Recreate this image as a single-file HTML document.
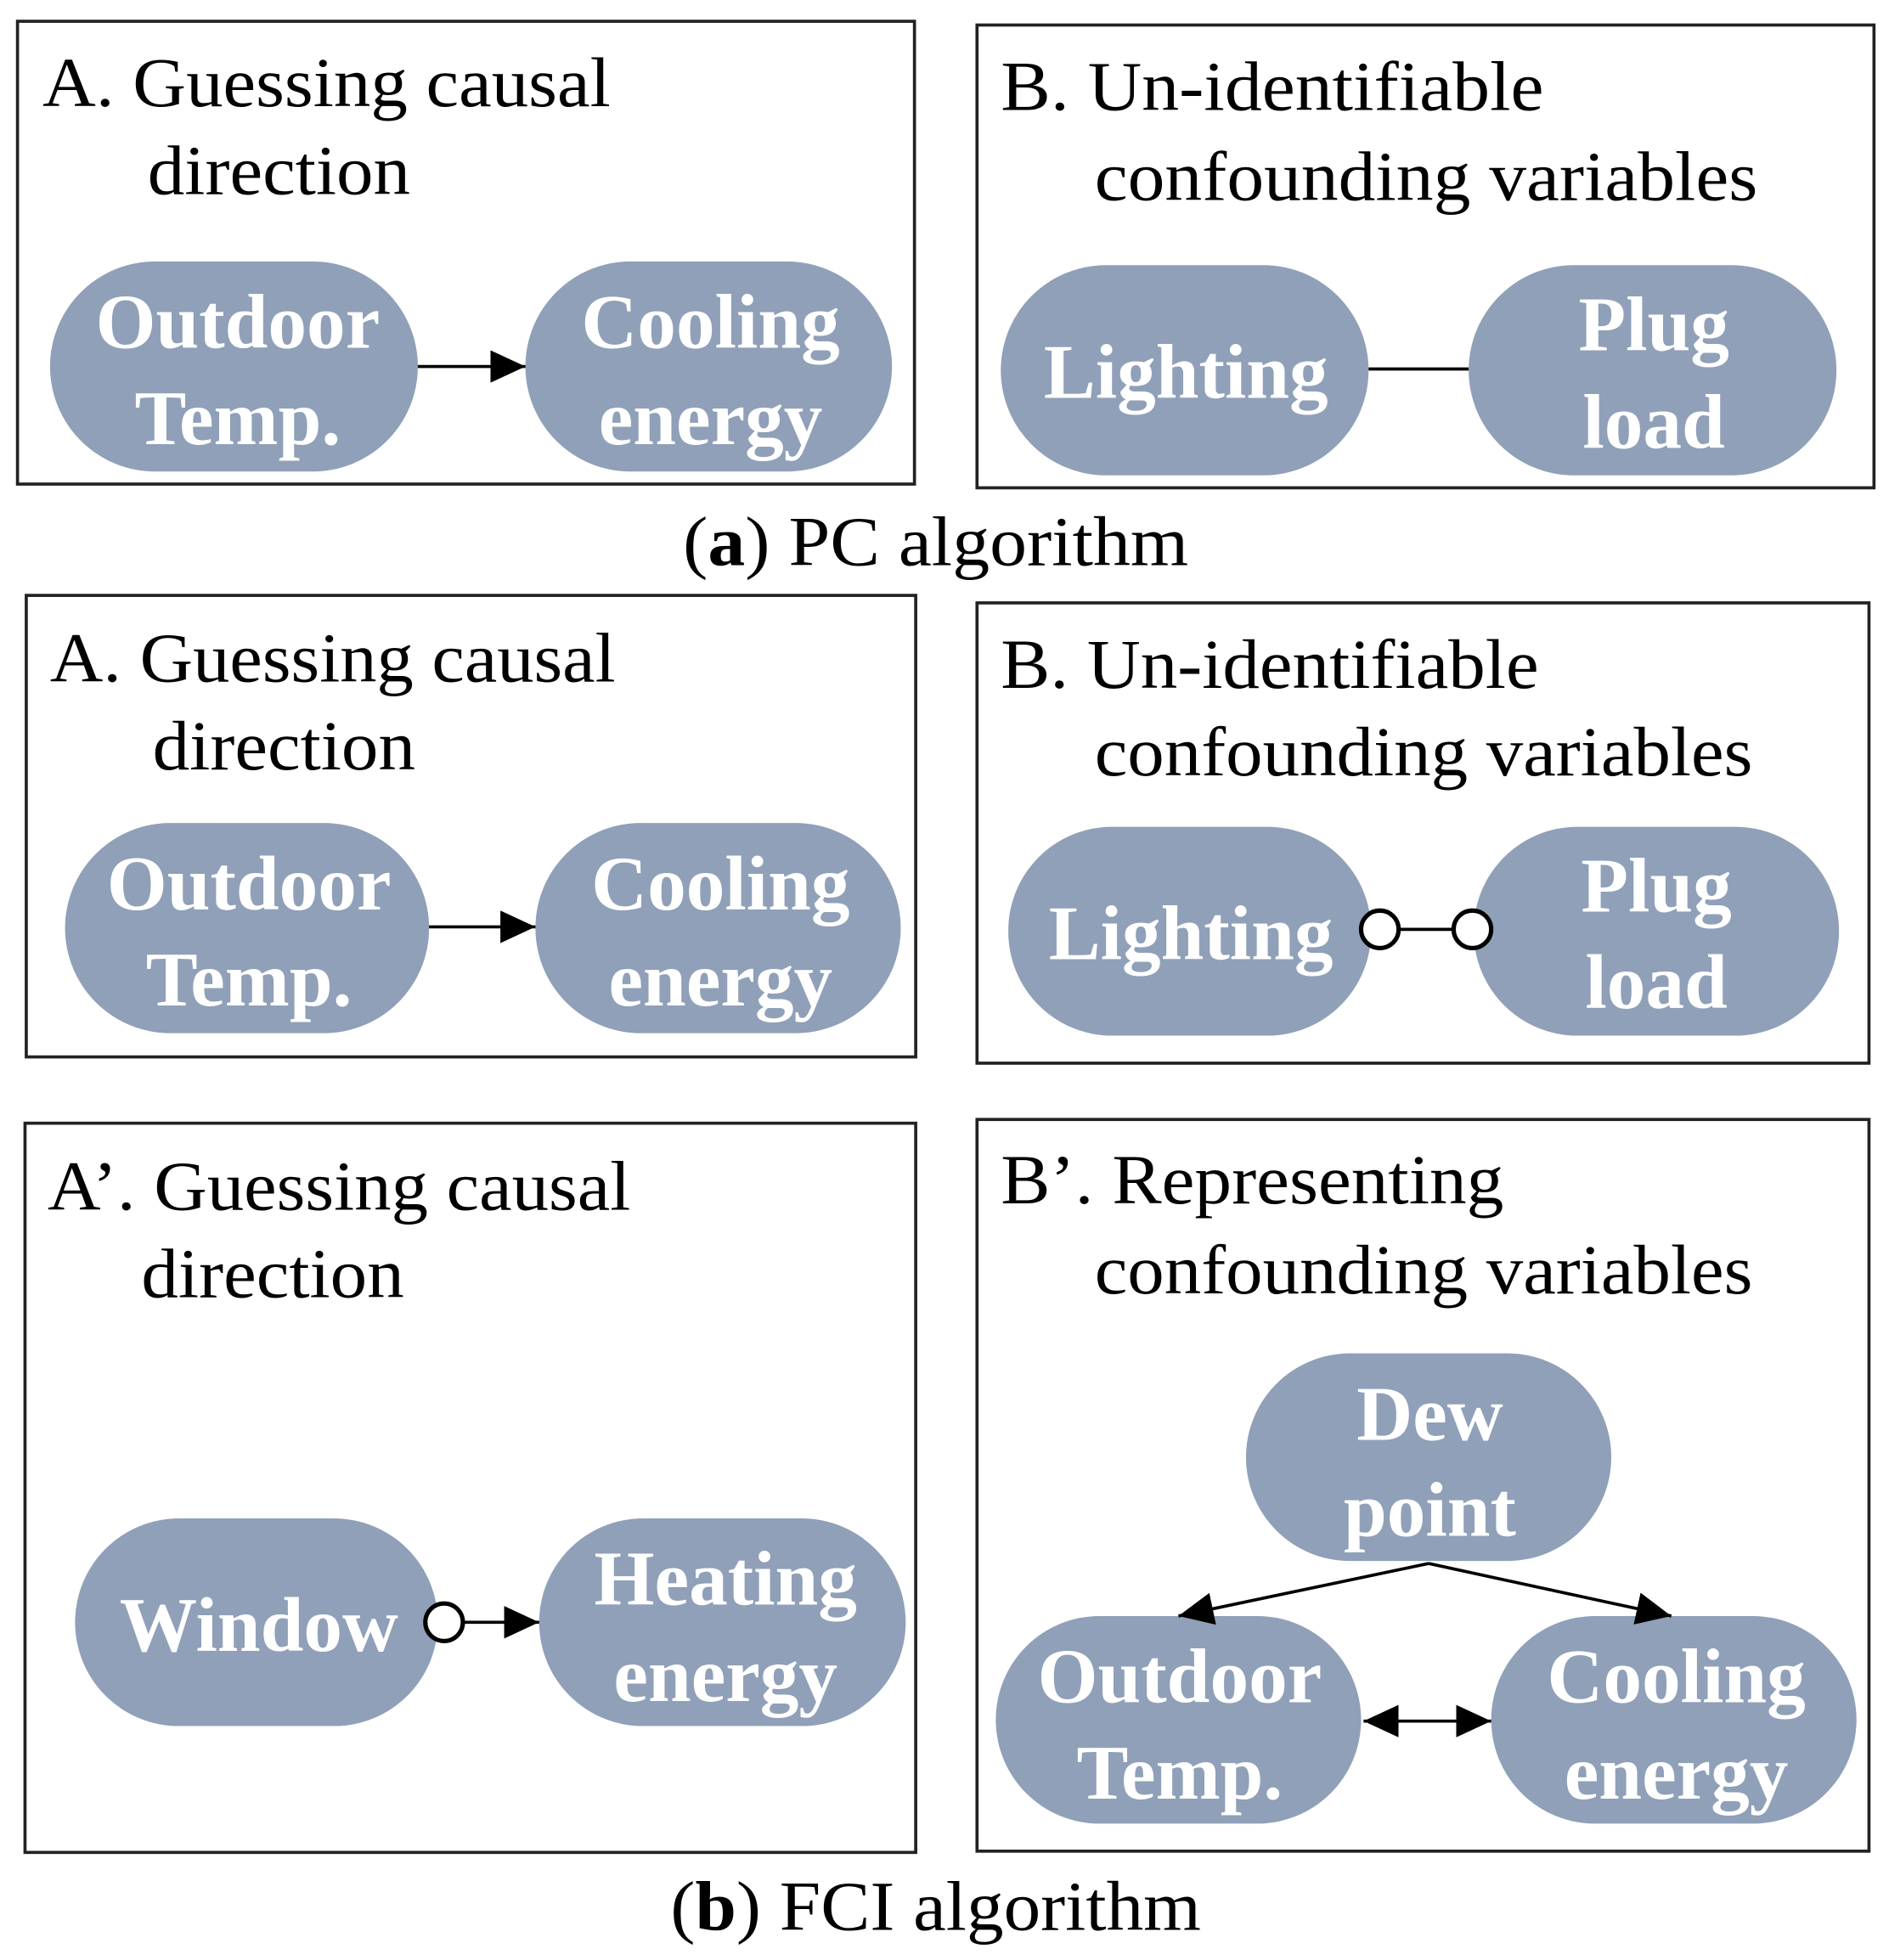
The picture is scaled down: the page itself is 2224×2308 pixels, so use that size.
<!DOCTYPE html>
<html><head><meta charset="utf-8"><style>html,body{margin:0;padding:0;background:#fff}svg{display:block}</style></head>
<body>
<svg width="2224" height="2308" viewBox="0 0 1510 1567" xmlns="http://www.w3.org/2000/svg">
<defs>
<marker id="ah" markerWidth="10" markerHeight="10" refX="10" refY="5" orient="auto" markerUnits="userSpaceOnUse" viewBox="0 0 10 10"><path d="M0,0 L10,5 L0,10 z" fill="#000"/></marker>
<marker id="big" markerWidth="28" markerHeight="26" refX="28" refY="13" orient="auto" markerUnits="userSpaceOnUse"><path d="M0,0 L28,13 L0,26 z" fill="#000"/></marker>
<marker id="bigs" markerWidth="28" markerHeight="26" refX="0" refY="13" orient="auto" markerUnits="userSpaceOnUse"><path d="M28,0 L0,13 L28,26 z" fill="#000"/></marker>
</defs>
<g fill="none" stroke="#222" stroke-width="2.5">
<rect x="14" y="17" width="717" height="370"/>
<rect x="781" y="20" width="717" height="370"/>
<rect x="21" y="476" width="711" height="369"/>
<rect x="781" y="482" width="713" height="368"/>
<rect x="20" y="898" width="712" height="583"/>
<rect x="781" y="895" width="713" height="585"/>
</g>
<g font-family="Liberation Serif, serif" font-size="56" fill="#000">
<text x="34" y="85" textLength="454" lengthAdjust="spacingAndGlyphs">A. Guessing causal</text>
<text x="118" y="155" textLength="210" lengthAdjust="spacingAndGlyphs">direction</text>
<text x="800" y="88" textLength="434" lengthAdjust="spacingAndGlyphs">B. Un-identifiable</text>
<text x="875" y="160" textLength="530" lengthAdjust="spacingAndGlyphs">confounding variables</text>
<text x="40" y="545" textLength="452" lengthAdjust="spacingAndGlyphs">A. Guessing causal</text>
<text x="122" y="615" textLength="210" lengthAdjust="spacingAndGlyphs">direction</text>
<text x="800" y="550" textLength="430" lengthAdjust="spacingAndGlyphs">B. Un-identifiable</text>
<text x="875" y="620" textLength="526" lengthAdjust="spacingAndGlyphs">confounding variables</text>
<text x="38" y="967" textLength="466" lengthAdjust="spacingAndGlyphs">A’. Guessing causal</text>
<text x="113" y="1037" textLength="210" lengthAdjust="spacingAndGlyphs">direction</text>
<text x="800" y="962" textLength="402" lengthAdjust="spacingAndGlyphs">B’. Representing</text>
<text x="875" y="1034" textLength="526" lengthAdjust="spacingAndGlyphs">confounding variables</text>
<text x="546" y="452" textLength="404" lengthAdjust="spacingAndGlyphs">(<tspan font-weight="bold">a</tspan>) PC algorithm</text>
<text x="536" y="1543" textLength="424" lengthAdjust="spacingAndGlyphs">(<tspan font-weight="bold">b</tspan>) FCI algorithm</text>
</g>
<g fill="#8fa0b8">
<rect x="40" y="209" width="294" height="168" rx="84"/>
<rect x="420" y="209" width="293" height="168" rx="84"/>
<rect x="800" y="212" width="294" height="168" rx="84"/>
<rect x="1174" y="212" width="294" height="168" rx="84"/>
<rect x="52" y="658" width="291" height="168" rx="84"/>
<rect x="428" y="658" width="292" height="168" rx="84"/>
<rect x="806" y="661" width="290" height="167" rx="83"/>
<rect x="1178" y="661" width="292" height="167" rx="83"/>
<rect x="60" y="1214" width="290" height="166" rx="83"/>
<rect x="431" y="1214" width="293" height="166" rx="83"/>
<rect x="996" y="1082" width="292" height="166" rx="83"/>
<rect x="796" y="1292" width="292" height="166" rx="83"/>
<rect x="1192" y="1292" width="292" height="166" rx="83"/>
</g>
<g font-family="Liberation Serif, serif" font-weight="bold" font-size="62" fill="#fff" text-anchor="middle">
<text x="190" y="278">Outdoor</text><text x="190" y="355">Temp.</text>
<text x="568" y="278">Cooling</text><text x="568" y="355">energy</text>
<text x="948" y="318">Lighting</text>
<text x="1322" y="280">Plug</text><text x="1322" y="358">load</text>
<text x="199" y="727">Outdoor</text><text x="199" y="804">Temp.</text>
<text x="576" y="727">Cooling</text><text x="576" y="804">energy</text>
<text x="952" y="767">Lighting</text>
<text x="1324" y="729">Plug</text><text x="1324" y="806">load</text>
<text x="207" y="1320">Window</text>
<text x="580" y="1283">Heating</text><text x="580" y="1360">energy</text>
<text x="1143" y="1151">Dew</text><text x="1143" y="1228">point</text>
<text x="943" y="1361">Outdoor</text><text x="943" y="1438">Temp.</text>
<text x="1340" y="1361">Cooling</text><text x="1340" y="1438">energy</text>
</g>
<g stroke="#000" stroke-width="2.5" fill="none">
<line x1="334" y1="293" x2="420" y2="293" marker-end="url(#big)"/>
<line x1="1094" y1="295" x2="1174" y2="295"/>
<line x1="343" y1="741" x2="428" y2="741" marker-end="url(#big)"/>
<line x1="1118" y1="743" x2="1162" y2="743"/>
<line x1="370" y1="1297" x2="431" y2="1297" marker-end="url(#big)"/>
<line x1="1142" y1="1250" x2="942" y2="1292" marker-end="url(#big)"/>
<line x1="1142" y1="1250" x2="1336" y2="1292" marker-end="url(#big)"/>
<line x1="1090" y1="1376" x2="1192" y2="1376" marker-start="url(#bigs)" marker-end="url(#big)"/>
</g>
<g stroke="#000" stroke-width="3.5" fill="#fff">
<circle cx="1103" cy="743" r="15"/>
<circle cx="1177" cy="743" r="15"/>
<circle cx="355" cy="1297" r="15"/>
</g>
</svg>
</body></html>
